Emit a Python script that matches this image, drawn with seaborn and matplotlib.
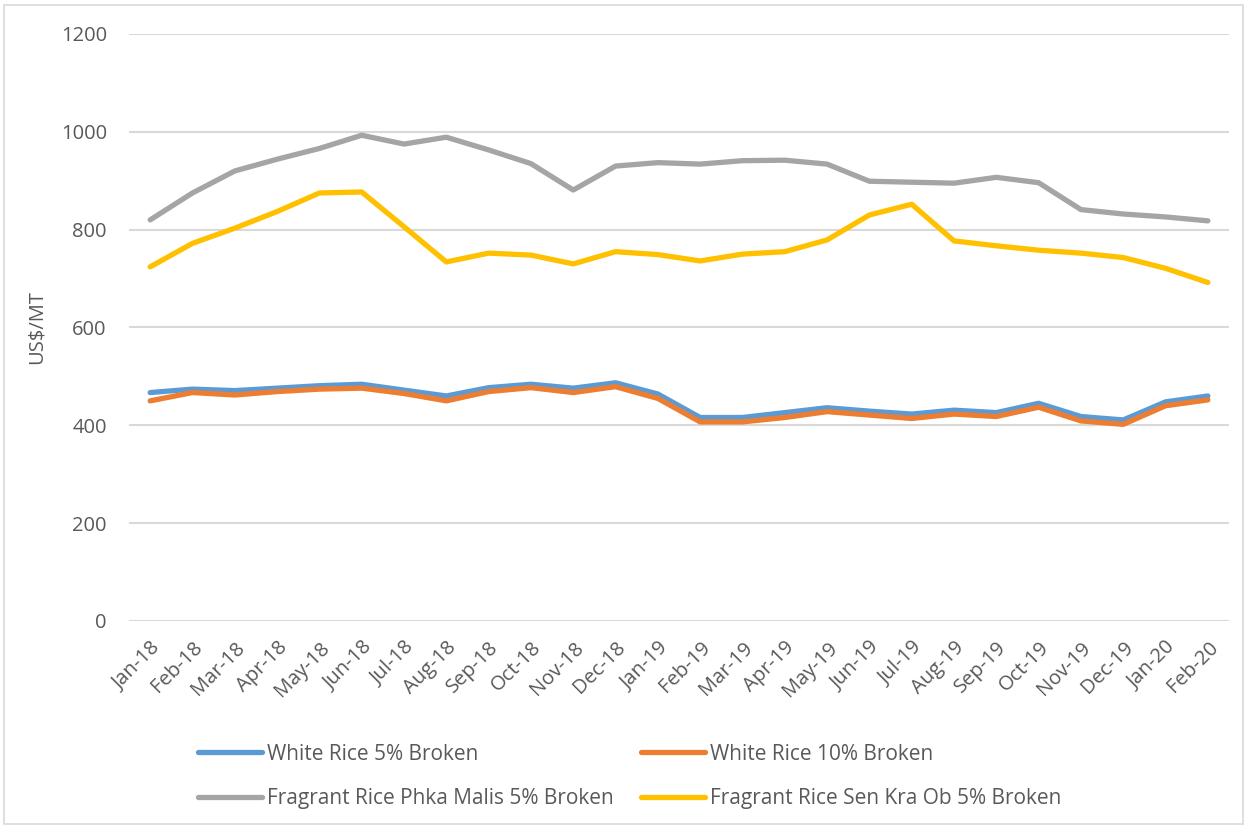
import seaborn as sns
import matplotlib.pyplot as plt
import matplotlib.patches as mpatches
import numpy as np
import pandas as pd

months = ["Jan-18", "Feb-18", "Mar-18", "Apr-18", "May-18", "Jun-18", "Jul-18",
          "Aug-18", "Sep-18", "Oct-18", "Nov-18", "Dec-18", "Jan-19", "Feb-19",
          "Mar-19", "Apr-19", "May-19", "Jun-19", "Jul-19", "Aug-19", "Sep-19",
          "Oct-19", "Nov-19", "Dec-19", "Jan-20", "Feb-20"]

white_5 = [467, 474, 471, 476, 481, 484, 472, 460, 477, 484, 476, 487, 464,
           416, 416, 426, 436, 429, 423, 431, 426, 445, 418, 411, 448, 460]
white_10 = [450, 467, 462, 469, 474, 476, 465, 450, 469, 477, 467, 479, 455,
            407, 407, 416, 428, 421, 414, 423, 418, 437, 409, 402, 440, 452]
phka_malis = [820, 875, 920, 944, 966, 993, 975, 989, 963, 935, 881, 930, 937,
              934, 941, 942, 934, 899, 897, 895, 907, 896, 841, 832, 826, 818]
sen_kra_ob = [724, 772, 803, 837, 875, 877, 806, 734, 752, 748, 730, 755, 749,
              736, 750, 755, 779, 830, 852, 777, 767, 758, 752, 743, 721, 692]

series_names = ["White Rice 5% Broken", "White Rice 10% Broken",
                "Fragrant Rice Phka Malis 5% Broken", "Fragrant Rice Sen Kra Ob 5% Broken"]
colors = ["#5B9BD5", "#ED7D31", "#A5A5A5", "#FFC000"]

frames = []
for name, vals in zip(series_names, [white_5, white_10, phka_malis, sen_kra_ob]):
    frames.append(pd.DataFrame({"idx": np.arange(len(months)), "price": vals, "series": name}))
df = pd.concat(frames, ignore_index=True)

sns.set_theme(style="white")
plt.rcParams['font.family'] = ['Open Sans', 'DejaVu Sans']

fig = plt.figure(figsize=(12.49, 8.27), dpi=100)
ax = fig.add_axes([0.1033, 0.2491, 0.8807, 0.7098])

sns.lineplot(data=df, x="idx", y="price", hue="series", hue_order=series_names,
             palette=colors, linewidth=3.8, ax=ax, legend=False,
             solid_capstyle="round", solid_joinstyle="round")

ax.set_xlim(-0.5, len(months) - 0.5)
ax.set_ylim(0, 1200)
ax.set_yticks(range(0, 1201, 200))
ax.yaxis.grid(True, color="#D9D9D9", linewidth=1.5)
ax.set_axisbelow(True)
for s in ax.spines.values():
    s.set_visible(False)

ax.set_xticks(np.arange(len(months)))
ax.set_xticklabels(months, rotation=45, ha="right", rotation_mode="anchor")
ax.tick_params(axis="x", length=0, pad=12, labelsize=14.5, labelcolor="#595959")
ax.tick_params(axis="y", length=0, pad=16, labelsize=14.5, labelcolor="#595959")
ax.set_xlabel("")
ax.set_ylabel("US$/MT", fontsize=14.5, color="#595959", labelpad=10)

# legend below the plot, filled row by row like the original
handles = [plt.Line2D([], [], color=c, linewidth=3.8, solid_capstyle="round") for c in colors]
order = [0, 2, 1, 3]
fig.legend([handles[i] for i in order], [series_names[i] for i in order],
           ncol=2, loc="upper left",
           bbox_to_anchor=(0.1515, 0.111), bbox_transform=fig.transFigure,
           frameon=False, fontsize=15.0, labelcolor="#595959",
           handlelength=3.1, handletextpad=0.22, columnspacing=1.3,
           labelspacing=1.15, borderaxespad=0)

# thin frame around the whole chart area
fig.patches.append(mpatches.Rectangle((0.003, 0.004), 0.992, 0.99, transform=fig.transFigure,
                                      fill=False, edgecolor="#D9D9D9", linewidth=1.2))

fig.savefig("out.png", dpi=100)
